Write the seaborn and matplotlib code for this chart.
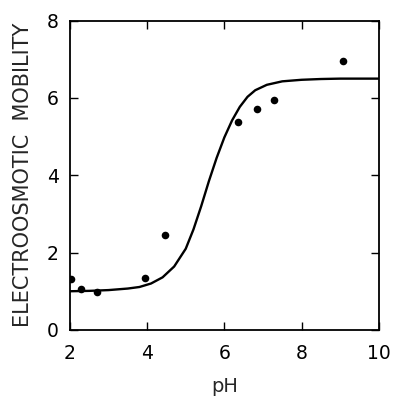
import numpy as np
import pandas as pd
from matplotlib import pyplot as plt
import seaborn as sns

# measured points
ph_pts = [2.02, 2.28, 2.70, 3.95, 4.45, 6.36, 6.85, 7.29, 9.07]
mob_pts = [1.31, 1.06, 0.99, 1.33, 2.45, 5.37, 5.72, 5.95, 6.96]

# fitted curve
ph_fit = [2.0, 2.5, 3.0, 3.5, 3.8, 4.1, 4.4, 4.7, 5.0, 5.2, 5.4, 5.6, 5.8,
          6.0, 6.2, 6.4, 6.6, 6.8, 7.1, 7.5, 8.0, 8.5, 9.0, 10.0]
mob_fit = [1.0, 1.01, 1.03, 1.07, 1.11, 1.2, 1.36, 1.64, 2.1, 2.6, 3.2, 3.85, 4.45,
           4.98, 5.42, 5.77, 6.03, 6.2, 6.34, 6.43, 6.47, 6.49, 6.5, 6.5]

sns.set_style("ticks")
plt.rcParams['font.family'] = ['DejaVu Sans']

fig = plt.figure(figsize=(3.95, 3.97), dpi=100)
ax = fig.add_axes([0.177, 0.169, 0.782, 0.779])

sns.lineplot(x=ph_fit, y=mob_fit, ax=ax, color="black", linewidth=1.7, sort=False)
sns.scatterplot(x=ph_pts, y=mob_pts, ax=ax, color="black", s=30, edgecolor="black", linewidth=0, zorder=3)

ax.set_xlim(2, 10)
ax.set_ylim(0, 8)
ax.set_xticks([2, 4, 6, 8, 10])
ax.set_yticks([0, 2, 4, 6, 8])
for s in ax.spines.values():
    s.set_visible(True)
    s.set_linewidth(1.3)
    s.set_color("black")
ax.tick_params(direction="in", length=6, width=1, top=True, right=True,
               labelsize=13.5, colors="black")
ax.tick_params(axis="x", pad=10)
ax.tick_params(axis="y", pad=8)
ax.set_xlabel("pH", fontsize=14, labelpad=10)
ax.set_ylabel("ELECTROOSMOTIC  MOBILITY", fontsize=15, labelpad=10)

fig.savefig("out.png", dpi=100)
